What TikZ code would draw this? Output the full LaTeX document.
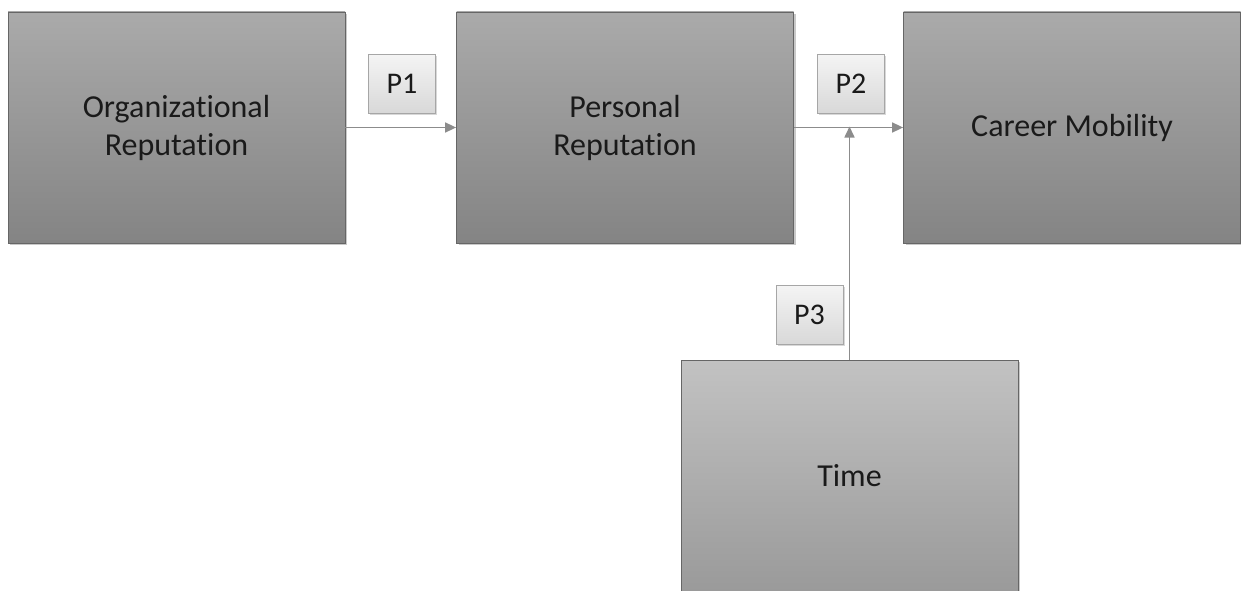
\documentclass[tikz,border=0pt]{standalone}
\usepackage{fontspec}
\setmainfont[Ligatures=NoCommon]{Carlito}
\usetikzlibrary{arrows.meta,shadows}
\definecolor{boxtop}{HTML}{AAAAAA}
\definecolor{boxbot}{HTML}{848484}
\definecolor{timetop}{HTML}{C2C2C2}
\definecolor{timebot}{HTML}{959595}
\definecolor{ptop}{HTML}{F4F4F4}
\definecolor{pbot}{HTML}{D8D8D8}
\definecolor{pline}{HTML}{A6A6A6}
\definecolor{arrowgray}{HTML}{8C8C8C}
\definecolor{txt}{HTML}{1A1A1A}
\tikzset{
  bigbox/.style={rectangle, draw=gray!80!black, line width=0.8pt, top color=boxtop, bottom color=boxbot,
    minimum width=337pt, minimum height=231pt, inner sep=0pt, align=center, text=txt,
    font=\fontsize{32}{38}\selectfont,
    drop shadow={shadow xshift=2pt, shadow yshift=-2pt, fill=black!35, opacity=0.6}},
  pbox/.style={rectangle, draw=pline, line width=0.8pt, top color=ptop, bottom color=pbot,
    minimum width=67pt, minimum height=59pt, inner sep=0pt, text=txt,
    font=\fontsize{30}{36}\selectfont,
    drop shadow={shadow xshift=1.5pt, shadow yshift=-1.5pt, fill=black!30, opacity=0.5}},
  conn/.style={draw=arrowgray, line width=1.6pt, -{Triangle[length=11pt,width=10pt]}},
}
\begin{document}
\begin{tikzpicture}[x=1pt,y=-1pt]
\useasboundingbox (0,0) rectangle (1241,591);
\fill[white] (0,0) rectangle (1241,591);
\begin{scope}
\clip (0,0) rectangle (1241,591);
\node[bigbox] (org) at (176.5,127.5) {Organizational\\Reputation};
\node[bigbox] (pers) at (625,127.5) {Personal\\Reputation};
\node[bigbox] (car) at (1072,127.5) {Career Mobility};
\node[bigbox, top color=timetop, bottom color=timebot, minimum height=260pt] (time) at (849.5,490) {};
\node[font=\fontsize{32}{38}\selectfont, text=txt] (timelabel) at (849.5,476) {Time};
\end{scope}
\node[pbox] (p1) at (402,84) {P1};
\node[pbox] (p2) at (851,84) {P2};
\node[pbox] (p3) at (809.5,315) {P3};
\coordinate (join) at (time.north |- pers.east);
\draw[conn] (org.east) -- (pers.west);
\draw[conn] (pers.east) -- (car.west);
\draw[conn] (time.north) -- ([yshift=1pt]join);
\end{tikzpicture}
\end{document}
